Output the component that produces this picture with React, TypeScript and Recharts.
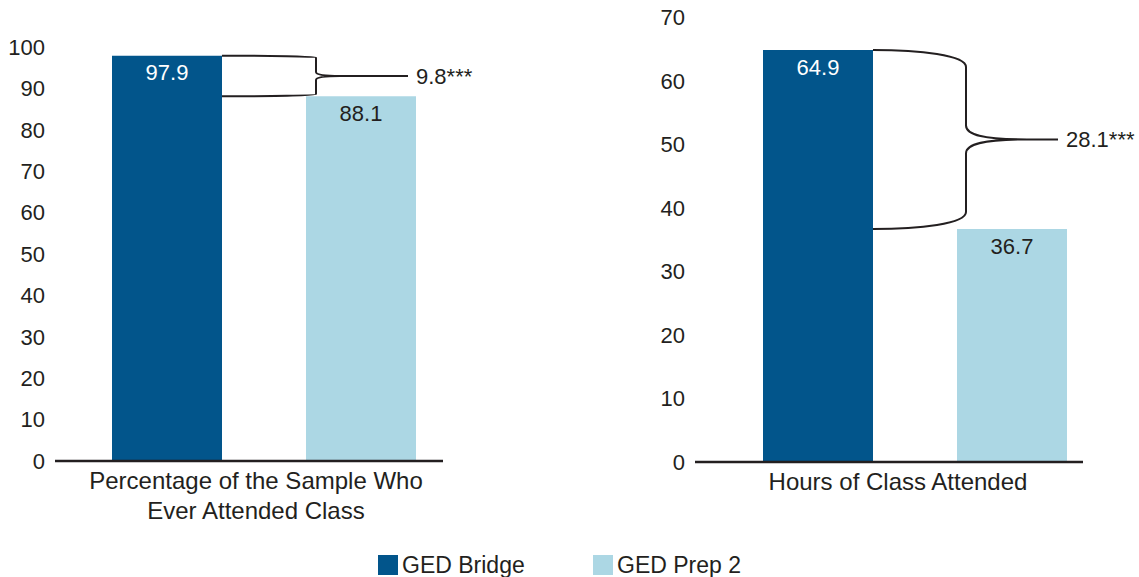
import React from "react";
import { BarChart, Bar, XAxis, YAxis, LabelList, Rectangle } from "recharts";

const seriesNames = ["GED Bridge", "GED Prep 2"];
const seriesColors = ["#02558b", "#acd7e4"];

const leftCategories = ["Percentage of the Sample Who Ever Attended Class"];
const leftTickLines = [["Percentage of the Sample Who", "Ever Attended Class"]];
const leftBridge = [97.9];
const leftPrep = [88.1];
const leftDiffLabels = ["9.8***"];
const leftTicks = [0, 10, 20, 30, 40, 50, 60, 70, 80, 90, 100];

const rightCategories = ["Hours of Class Attended"];
const rightTickLines = [["Hours of Class Attended"]];
const rightBridge = [64.9];
const rightPrep = [36.7];
const rightDiffLabels = ["28.1***"];
const rightTicks = [0, 10, 20, 30, 40, 50, 60, 70];

const FONT = "'Liberation Sans', Arial, Helvetica, sans-serif";
const INK = "#231f20";

const leftData = leftCategories.map((c, i) => ({
  name: c,
  lines: leftTickLines[i],
  bridge: leftBridge[i],
  prep: leftPrep[i],
  diff: leftDiffLabels[i],
}));
const rightData = rightCategories.map((c, i) => ({
  name: c,
  lines: rightTickLines[i],
  bridge: rightBridge[i],
  prep: rightPrep[i],
  diff: rightDiffLabels[i],
}));

type BraceStyle = { gap: number; tip: number; r1: number; r2: number; tail: number };

function bracePath(x0: number, yT: number, yB: number, s: BraceStyle) {
  const xv = x0 + s.gap;
  const xt = xv + s.tip;
  const xe = xv + s.tail;
  const ym = (yT + yB) / 2;
  const c1 = xv - 0.5 * (xv - x0);
  const c2 = xv + 0.3 * (xt - xv);
  return [
    `M ${x0} ${yT}`,
    `C ${c1} ${yT}, ${xv} ${yT + s.r1 * 0.3}, ${xv} ${yT + s.r1}`,
    `L ${xv} ${ym - s.r2}`,
    `C ${xv} ${ym - s.r2 * 0.3}, ${c2} ${ym}, ${xt} ${ym}`,
    `L ${xe} ${ym}`,
    `M ${x0} ${yB}`,
    `C ${c1} ${yB}, ${xv} ${yB - s.r1 * 0.3}, ${xv} ${yB - s.r1}`,
    `L ${xv} ${ym + s.r2}`,
    `C ${xv} ${ym + s.r2 * 0.3}, ${c2} ${ym}, ${xt} ${ym}`,
  ].join(" ");
}

function makeBracketShape(style: BraceStyle) {
  return (props: any) => {
    const { x, y, width, height, payload, fill } = props;
    const base = y + height;
    const scale = height / payload.bridge;
    const yLight = base - payload.prep * scale;
    const x0 = x + width;
    const ym = (y + yLight) / 2;
    const xe = x0 + style.gap + style.tail;
    return (
      <g>
        <Rectangle x={x} y={y} width={width} height={height} fill={fill} />
        <path d={bracePath(x0, y, yLight, style)} fill="none" stroke={INK} strokeWidth={2} />
        <text x={xe + 8} y={ym + 8} fontSize={22} fontFamily={FONT} fill={INK}>
          {payload.diff}
        </text>
      </g>
    );
  };
}

function makeTick(dx: number) {
  return (props: any) => {
    const { x, y, payload } = props;
    const lines: string[] = payload.lines ?? [];
    return (
      <text x={x + dx} y={y} textAnchor="middle" fontSize={24} fontFamily={FONT} fill={INK}>
        {lines.map((l, i) => (
          <tspan key={i} x={x + dx} y={y + 28 + i * 30}>
            {l}
          </tspan>
        ))}
      </text>
    );
  };
}

const leftBrace: BraceStyle = { gap: 94, tip: 24, r1: 2, r2: 4, tail: 92 };
const rightBrace: BraceStyle = { gap: 93, tip: 61, r1: 17, r2: 14, tail: 92 };

function Panel(props: {
  data: any[];
  ticks: number[];
  width: number;
  height: number;
  margin: any;
  padLeft: number;
  tickDx: number;
  brace: BraceStyle;
}) {
  const { data, ticks, width, height, margin, padLeft, tickDx, brace } = props;
  const linesByName: Record<string, string[]> = {};
  data.forEach((d) => (linesByName[d.name] = d.lines));
  const Tick = makeTick(tickDx);
  return (
    <BarChart width={width} height={height} data={data} margin={margin} barGap={84} barSize={110}>
      <XAxis
        dataKey="name"
        axisLine={{ stroke: INK, strokeWidth: 2.5 }}
        tickLine={false}
        tickSize={0}
        tickMargin={0}
        height={60}
        padding={{ left: padLeft, right: 0 }}
        tick={(p: any) => <Tick {...p} payload={{ ...p.payload, lines: linesByName[p.payload.value] }} />}
        interval={0}
      />
      <YAxis
        domain={[0, ticks[ticks.length - 1]]}
        ticks={ticks}
        interval={0}
        axisLine={false}
        tickLine={false}
        tickSize={0}
        tickMargin={10}
        width={55}
        tick={{ fontSize: 22, fontFamily: FONT, fill: INK }}
      />
      <Bar dataKey="bridge" name={seriesNames[0]} fill={seriesColors[0]} isAnimationActive={false} shape={makeBracketShape(brace)}>
        <LabelList dataKey="bridge" position="insideTop" offset={9} fill="#ffffff" fontSize={22} fontFamily={FONT} />
      </Bar>
      <Bar dataKey="prep" name={seriesNames[1]} fill={seriesColors[1]} isAnimationActive={false}>
        <LabelList dataKey="prep" position="insideTop" offset={9} fill={INK} fontSize={22} fontFamily={FONT} />
      </Bar>
    </BarChart>
  );
}

export default function App() {
  return (
    <div style={{ position: "absolute", left: 0, top: 0, width: 1139, height: 577, background: "#fff", fontFamily: FONT }}>
      <div style={{ position: "absolute", left: 0, top: 0 }}>
        <Panel
          data={leftData}
          ticks={leftTicks}
          width={640}
          height={577}
          margin={{ top: 47, right: 197, bottom: 56, left: 0 }}
          padLeft={30}
          tickDx={-8}
          brace={leftBrace}
        />
      </div>
      <div style={{ position: "absolute", left: 640, top: 0 }}>
        <Panel
          data={rightData}
          ticks={rightTicks}
          width={499}
          height={577}
          margin={{ top: 17.5, right: 56, bottom: 55, left: 0 }}
          padLeft={52}
          tickDx={-17}
          brace={rightBrace}
        />
      </div>
      {seriesNames.map((n, i) => (
        <div
          key={n}
          style={{
            position: "absolute",
            left: 378 + i * 215,
            top: 553,
            display: "flex",
            alignItems: "center",
            fontSize: 23,
            color: INK,
            lineHeight: "24px",
          }}
        >
          <span style={{ display: "inline-block", width: 20, height: 20, background: seriesColors[i], marginRight: 4 }} />
          <span>{n}</span>
        </div>
      ))}
    </div>
  );
}
